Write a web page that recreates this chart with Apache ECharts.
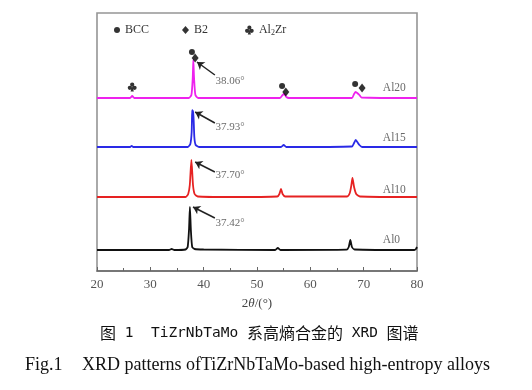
<!DOCTYPE html>
<html><head><meta charset="utf-8">
<script src="https://cdn.jsdelivr.net/npm/echarts@6/dist/echarts.min.js"></script>
<style>html,body{margin:0;padding:0;background:#fff}#c{width:532px;height:390px}</style>
</head><body><div id="c"></div>
<script>
// ---- data (2θ in degrees, intensity in arbitrary units) ----
const samples = ['Al0', 'Al10', 'Al15', 'Al20'];
const offsets = [21, 74, 124, 173];
const colors = ['#111111', '#e62222', '#2a2ae6', '#ee22ee'];
const al0 = [[20,0],[33.5,0],[34,1],[34.5,0],[36.6,0.5],[37.0,3],[37.25,20],[37.42,43],[37.6,20],[37.85,3],[38.3,1],[40,0.5],[53.4,0],[53.9,2],[54.4,0],[66.8,0.3],[67.2,3],[67.5,10],[67.8,3],[68.3,0.5],[79.5,0],[79.8,1],[80,3]];
const al10 = [[20,0],[36.6,0],[37.1,3],[37.4,12],[37.7,37],[38.0,12],[38.3,3],[38.9,0.5],[45,0],[53.8,0.5],[54.2,3],[54.5,8],[54.8,3],[55.3,0.5],[66.9,0.5],[67.4,4],[67.7,12],[67.9,19],[68.2,10],[68.6,3],[69.3,0.5],[80,0]];
const al15 = [[20,0],[26.2,0],[26.5,1.2],[26.8,0],[37,0],[37.5,3],[37.75,15],[37.85,37],[37.95,30],[38.05,36],[38.25,10],[38.5,2],[39.2,0],[54.5,0],[55,2],[55.5,0],[67.8,0.5],[68.2,4],[68.5,7],[68.8,5],[69.2,2],[69.7,0],[80,0]];
const al20 = [[20,0],[26.2,0],[26.6,2],[27.0,0],[37.2,0],[37.7,3],[37.95,20],[38.06,38],[38.2,20],[38.45,3],[39,0],[54.3,0],[54.8,3],[55.1,4],[55.5,1],[56,0],[67.8,0],[68.2,4],[68.5,6],[68.9,4.5],[69.2,3],[69.6,0.5],[80,0]];
const patterns = [al0, al10, al15, al20];
// phase markers (position on the stacked plot)
const bccMarks = [[37.8,219],[54.7,185],[68.4,187]];
const b2Marks = [[38.4,213],[55.4,179],[69.7,183]];
const al2zrMarks = [[26.6,184]];
// peak-position annotations
const peakLabels = ['37.42°', '37.70°', '37.93°', '38.06°'];
const arrowTails = [[42.1,53],[42.1,99],[42.1,148],[42.1,196]];
const arrowHeads = [[38.0,64],[38.4,109],[38.4,159],[38.75,209]];
const peakLabelPos = [[42.2,48],[42.2,96],[42.2,144],[42.2,190]];
const sampleLabelPos = [[73.6,31],[73.6,81],[73.6,133],[73.6,183]];
const xTicks = [20, 30, 40, 50, 60, 70, 80];

const clubPath = 'path://M12,2.5A4.5,4.5,0,1,1,11.99,2.5Z M7,9.5A4.5,4.5,0,1,1,6.99,9.5Z M17,9.5A4.5,4.5,0,1,1,16.99,9.5Z M12,11L15.5,22L8.5,22Z';
const serif = '"Liberation Serif","DejaVu Serif",serif';
const mono = '"DejaVu Sans Mono",monospace';
const cjk = '"Noto Sans CJK SC",sans-serif';

const chart = echarts.init(document.getElementById('c'), null, {renderer: 'canvas'});
const series = [];
patterns.forEach((p, i) => {
  series.push({
    type: 'line', name: samples[i], data: p.map(d => [d[0], d[1] + offsets[i]]),
    showSymbol: false, symbol: 'none', smooth: 0.2, lineStyle: {color: colors[i], width: 1.8},
    z: 3, silent: true
  });
});
series.push({type: 'scatter', name: 'BCC', data: bccMarks, symbol: 'circle', symbolSize: 6, itemStyle: {color: '#000'}, z: 5});
series.push({type: 'scatter', name: 'B2', data: b2Marks, symbol: 'diamond', symbolSize: [7, 9], itemStyle: {color: '#000'}, z: 5});
series.push({type: 'scatter', name: 'Al2Zr', data: al2zrMarks, symbol: clubPath, symbolSize: 9, itemStyle: {color: '#000'}, z: 5});
series.push({
  type: 'lines', coordinateSystem: 'cartesian2d', symbol: ['none', 'arrow'], symbolSize: 7,
  lineStyle: {color: '#222', width: 1.5, opacity: 1},
  data: arrowTails.map((t, i) => ({coords: [t, arrowHeads[i]]})), z: 6
});
series.push({
  type: 'scatter', symbolSize: 0, silent: true,
  data: peakLabelPos.map((p, i) => ({value: p, name: peakLabels[i]})),
  label: {show: true, position: 'right', distance: 0, formatter: p => p.name, fontFamily: serif, fontSize: 11, color: '#444'}
});
series.push({
  type: 'scatter', symbolSize: 0, silent: true,
  data: sampleLabelPos.map((p, i) => ({value: p, name: samples[i]})),
  label: {show: true, position: 'right', distance: 0, formatter: p => p.name, fontFamily: serif, fontSize: 11.5, color: '#444'}
});

const legendText = {fontFamily: serif, fontSize: 12, color: '#333',
  rich: {n: {fontFamily: serif, fontSize: 12, color: '#333'}, s: {fontFamily: serif, fontSize: 8, color: '#333', verticalAlign: 'bottom', padding: [6, 0, 0, 0]}}};
const legendFmt = n => n === 'Al2Zr' ? '{n|Al}{s|2}{n|Zr}' : n;
const legendBase = {top: 19, itemWidth: 6, itemHeight: 6, itemGap: 0, textStyle: legendText, formatter: legendFmt, selectedMode: false};

chart.setOption({
  animation: false,
  backgroundColor: '#fff',
  grid: {left: 97, top: 13, width: 320, height: 258, show: true, borderColor: '#959595', borderWidth: 1.6},
  legend: [
    Object.assign({}, legendBase, {data: ['BCC'], left: 109}),
    Object.assign({}, legendBase, {data: ['B2'], left: 177, itemWidth: 7, itemHeight: 8}),
    Object.assign({}, legendBase, {data: ['Al2Zr'], left: 240, itemWidth: 9, itemHeight: 9})
  ],
  xAxis: {
    type: 'value', min: xTicks[0], max: xTicks[xTicks.length - 1], interval: 10,
    axisLine: {onZero: false, lineStyle: {color: '#666', width: 1.5}},
    axisTick: {inside: true, length: 4, lineStyle: {color: '#666'}},
    minorTick: {show: true, splitNumber: 2, length: 3, lineStyle: {color: '#666'}},
    splitLine: {show: false},
    axisLabel: {fontFamily: serif, fontSize: 13, color: '#555', margin: 7},
    name: '{n|2}{i|θ}{n|/(°)}', nameLocation: 'middle', nameGap: 26,
    nameTextStyle: {rich: {n: {fontFamily: serif, fontSize: 13, color: '#444'}, i: {fontFamily: serif, fontSize: 13, fontStyle: 'italic', color: '#444'}}}
  },
  yAxis: {type: 'value', min: 0, max: 258, show: false},
  series: series,
  graphic: [
    {type: 'text', left: 100, top: 325, style: {
      text: '{c|图}{l| 1  TiZrNbTaMo }{c|系高熵合金的}{l| XRD }{c|图谱}',
      rich: {c: {fontFamily: cjk, fontSize: 16, fill: '#111'}, l: {fontFamily: mono, fontSize: 14.5, fill: '#111'}}
    }},
    {type: 'text', left: 25, top: 356, style: {text: 'Fig.1', font: '18px "Liberation Serif",serif', fill: '#111'}},
    {type: 'text', left: 82, top: 356, style: {text: 'XRD patterns ofTiZrNbTaMo-based high-entropy alloys', font: '18px "Liberation Serif",serif', fill: '#111'}}
  ]
});
</script></body></html>
